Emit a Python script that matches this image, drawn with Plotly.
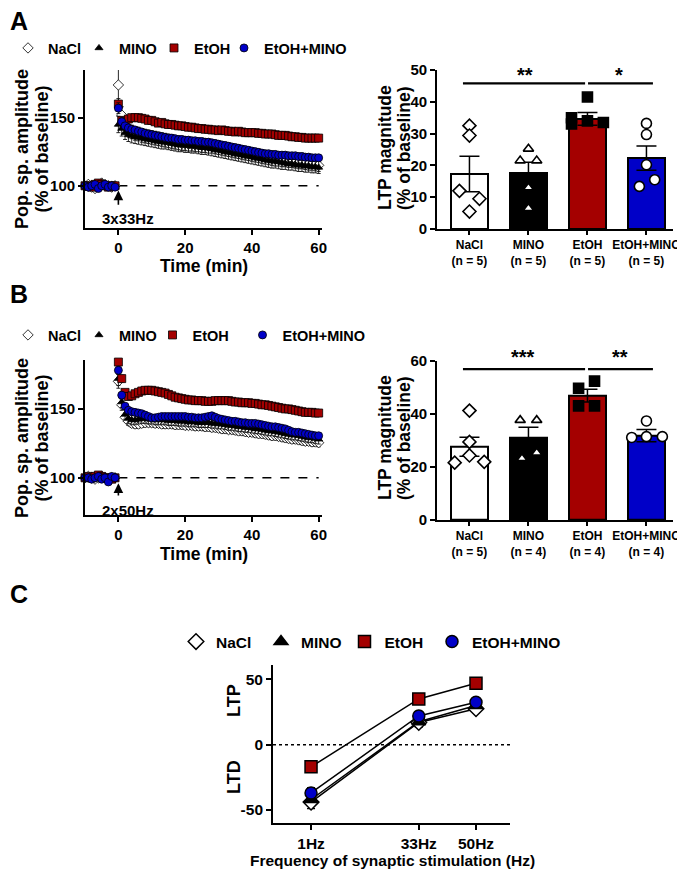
import plotly.graph_objects as go

W, H = 685, 872
OFF = 8  # the page body adds an 8px margin around the figure
def fx(p): return (p - OFF) / W
def fy(p): return 1 - (p - OFF) / H

FONT = "Liberation Sans, Arial, sans-serif"
RED = "#A40000"
BLUE = "#0000C8"

GROUPS = ["NaCl", "MINO", "EtOH", "EtOH+MINO"]
TIME = list(range(-10, 61))

# ---------------- Panel A time course (3x33Hz) ----------------
A_NACL = [100, 101, 99, 98, 101, 102, 101, 100, 99, 100,
          174, 152, 144, 141, 139.5, 138.5, 138, 137, 136.5, 136,
          135.5, 135, 134.5, 134, 133.5, 133, 132.5, 132, 131.5, 131,
          131, 130.5, 130.5, 130, 130, 129.5, 129.5, 129, 129, 128.5,
          128, 127.5, 127, 126.5, 126, 125.5, 125, 124.5, 124, 123.5,
          123, 122.5, 122, 121.5, 121, 120.5, 120, 119.5, 119.5, 119,
          118.5, 118, 118, 117.5, 117, 117, 116.5, 116, 116, 115.5,
          115]
A_MINO = [100, 99, 101, 100, 99, 101, 100, 100, 101, 99,
          145, 142, 139, 137.5, 136.5, 136, 135.5, 135, 134.5, 134,
          133.5, 133, 132.5, 132, 132, 131.5, 131, 130.5, 130, 130,
          129.5, 129.5, 129, 129, 128.5, 128, 128, 127.5, 127, 126.5,
          126, 125.5, 125, 124.5, 124, 123.5, 123, 122.5, 122, 121.5,
          121, 120.5, 120, 119.5, 119, 118.5, 118, 118, 117.5, 117,
          116.5, 116, 116, 115.5, 115, 115, 114.5, 114.5, 114, 114,
          113.5]
A_ETOH = [100, 100, 99, 101, 102, 101, 100, 99, 100, 100,
          160, 148, 147, 149, 150, 150, 150, 149.5, 149, 148,
          148, 147, 146, 146.5, 145.5, 145, 145, 144.5, 144, 144,
          143.5, 143, 143, 142.5, 142, 142, 141.5, 141.5, 141, 141,
          140.5, 141, 140.5, 140, 140, 139.5, 140, 139.5, 139, 139,
          139, 139, 138.5, 138.5, 138, 138, 138, 137.5, 137, 137,
          137, 136.5, 136, 136, 135.5, 135.5, 135, 135, 135, 135,
          135]
A_EM = [100, 99, 100, 101, 98, 100, 101, 99, 100, 99,
        157, 147, 144, 142.5, 141.5, 141, 140, 139.5, 138.5, 138,
        137.5, 137, 136.5, 136, 135.5, 135, 135, 134.5, 134, 134,
        133.5, 133.5, 133, 133, 132.5, 132.5, 132, 132, 131.5, 131,
        130.5, 130, 129.5, 129, 128.5, 128, 127.5, 127, 126.5, 126,
        125.5, 125, 124.5, 124, 123.5, 123.5, 123, 123, 122.5, 122.5,
        122.5, 122, 122, 122, 121.5, 121.5, 121, 121, 120.5, 120.5,
        120.5]
A_NACL_SEM = [1.5, 1.5, 2, 1.5, 2, 1.5, 2, 1.5, 1.5, 1.5,
              14, 6, 5.5, 5, 5, 5, 5, 5, 5, 5,
              5, 5, 5, 5, 5, 5, 5, 5, 5, 5,
              5, 5, 5, 5, 5, 5, 5, 5, 5, 5,
              5, 5, 5, 5, 5, 5, 5, 5, 5, 5,
              5, 5, 5, 5, 5, 5, 5, 5, 5, 5,
              4.5, 4.5, 4.5, 4.5, 4.5, 4.5, 4.5, 4.5, 4.5, 4.5,
              4.5]
A_MINO_SEM = [1.5, 1.5, 1.5, 1.5, 1.5, 1.5, 1.5, 1.5, 1.5, 1.5,
              6, 5.5, 5, 5, 5, 5, 5, 5, 5, 5,
              5, 5, 5, 5, 5, 5, 5, 5, 5, 5,
              5, 5, 5, 5, 5, 5, 5, 5, 5, 5,
              5, 5, 5, 5, 5, 5, 5, 5, 5, 5,
              5, 5, 5, 5, 5, 5, 5, 5, 5, 5,
              4.5, 4.5, 4.5, 4.5, 4.5, 4.5, 4.5, 4.5, 4.5, 4.5,
              4.5]
A_ETOH_SEM = [1, 1, 1, 1, 1, 1, 1, 1, 1, 1,
              4, 2.5, 2, 2, 2, 2, 2, 2, 2, 2,
              2, 2, 2, 2, 2, 2, 2, 2, 2, 2,
              2, 2, 2, 2, 2, 2, 2, 2, 2, 2,
              2, 2, 2, 2, 2, 2, 2, 2, 2, 2,
              2, 2, 2, 2, 2, 2, 2, 2, 2, 2,
              2, 2, 2, 2, 2, 2, 2, 2, 2, 2,
              2]
A_EM_SEM = [1, 1, 1, 1, 1, 1, 1, 1, 1, 1,
            4, 3, 2.5, 2.5, 2.5, 2.5, 2.5, 2.5, 2.5, 2.5,
            2.5, 2.5, 2.5, 2.5, 2.5, 2.5, 2.5, 2.5, 2.5, 2.5,
            2.5, 2.5, 2.5, 2.5, 2.5, 2.5, 2.5, 2.5, 2.5, 2.5,
            2.5, 2.5, 2.5, 2.5, 2.5, 2.5, 2.5, 2.5, 2.5, 2.5,
            2.5, 2.5, 2.5, 2.5, 2.5, 2.5, 2.5, 2.5, 2.5, 2.5,
            2.5, 2.5, 2.5, 2.5, 2.5, 2.5, 2.5, 2.5, 2.5, 2.5,
            2.5]

# ---------------- Panel B time course (2x50Hz) ----------------
B_NACL = [100, 101, 100, 99, 100, 101, 100, 99, 100, 100,
          170, 153, 144, 141, 139.5, 139, 139, 139.5, 140, 140,
          140, 139.5, 139.5, 139, 139, 139, 139, 138.5, 138.5, 138.5,
          138, 138, 138, 137.5, 137.5, 137.5, 137, 137, 136.5, 136.5,
          136, 135.5, 135.5, 135, 135, 134.5, 134, 134, 133.5, 133,
          133, 132.5, 132, 132, 131.5, 131, 130.5, 130.5, 130, 129.5,
          129, 128.5, 128, 128, 127.5, 127, 126.5, 126.5, 126, 126,
          125.5]
B_MINO = [100, 100, 101, 100, 99, 100, 101, 100, 100, 101,
          172, 155, 146, 143, 142, 142, 142.5, 143, 143, 142.5,
          142.5, 142, 142, 142, 142, 141.5, 141.5, 141.5, 141, 141,
          141, 140.5, 140.5, 140.5, 140, 140, 140, 140, 139.5, 139.5,
          139, 139, 138.5, 138, 138, 137.5, 137, 137, 136.5, 136.5,
          136, 135.5, 135.5, 135, 134.5, 134, 134, 133.5, 133, 132.5,
          132, 131.5, 131, 131, 130.5, 130, 129.5, 129, 129, 128.5,
          128]
B_ETOH = [100, 101, 100, 101, 102, 101, 100, 100, 99, 100,
          184, 172, 162, 159, 159.5, 161, 162, 163, 163.5, 163.5,
          163.5, 163, 162.5, 162, 161.5, 160.5, 159.5, 158.5, 158, 157.5,
          157, 156.5, 156.5, 156, 156, 156, 155.5, 155.5, 155.5, 156,
          156, 156, 156, 156, 155.5, 155, 155, 154.5, 154.5, 154.5,
          154, 154, 153.5, 153, 153, 152.5, 152, 151.5, 151, 150.5,
          150, 150, 149.5, 149, 148.5, 148, 147.5, 147.5, 147.5, 147,
          147]
B_EM = [100, 100, 99, 100, 101, 99, 100, 97, 101, 100,
        178, 160, 152, 149, 148, 147.5, 147, 146.5, 145.5, 144.5,
        143.5, 143.5, 144, 144.5, 144.5, 144.5, 144.5, 144.5, 144.5, 144.5,
        144.5, 144, 144, 143.5, 143.5, 143.5, 144, 144.5, 145, 144,
        143, 142.5, 142, 141.5, 141, 141, 140.5, 140, 140, 139.5,
        139.5, 139.5, 139, 138.5, 138, 137.5, 137, 137, 136.5, 136,
        135.5, 134.5, 133.5, 133, 133, 132.5, 132, 131.5, 131, 130.5,
        130.5]
B_NACL_SEM = [1, 1, 1, 1, 1, 1, 1, 1, 1, 1,
              5, 4, 3, 3, 3, 3, 3, 3, 3, 3,
              3, 3, 3, 3, 3, 3, 3, 3, 3, 3,
              3, 3, 3, 3, 3, 3, 3, 3, 3, 3,
              3, 3, 3, 3, 3, 3, 3, 3, 3, 3,
              3, 3, 3, 3, 3, 3, 3, 3, 3, 3,
              3, 3, 3, 3, 3, 3, 3, 3, 3, 3,
              3]
B_MINO_SEM = [1, 1, 1, 1, 1, 1, 1, 1, 1, 1,
              5, 4, 3.5, 3.5, 3.5, 3.5, 3.5, 3.5, 3.5, 3.5,
              3.5, 3.5, 3.5, 3.5, 3.5, 3.5, 3.5, 3.5, 3.5, 3.5,
              3.5, 3.5, 3.5, 3.5, 3.5, 3.5, 3.5, 3.5, 3.5, 3.5,
              3.5, 3.5, 3.5, 3.5, 3.5, 3.5, 3.5, 3.5, 3.5, 3.5,
              3.5, 3.5, 3.5, 3.5, 3.5, 3.5, 3.5, 3.5, 3.5, 3.5,
              3.5, 3.5, 3.5, 3.5, 3.5, 3.5, 3.5, 3.5, 3.5, 3.5,
              3.5]
B_ETOH_SEM = [1, 1, 1, 1, 1, 1, 1, 1, 1, 1,
              3, 2.5, 2, 2, 2, 2, 2, 2, 2, 2,
              2, 2, 2, 2, 2, 2, 2, 2, 2, 2,
              2, 2, 2, 2, 2, 2, 2, 2, 2, 2,
              2, 2, 2, 2, 2, 2, 2, 2, 2, 2,
              2, 2, 2, 2, 2, 2, 2, 2, 2, 2,
              2, 2, 2, 2, 2, 2, 2, 2, 2, 2,
              2]
B_EM_SEM = [1, 1, 1, 1, 1, 1, 1, 1, 1, 1,
            3, 2.5, 2, 2, 2, 2, 2, 2, 2, 2,
            2, 2, 2, 2, 2, 2, 2, 2, 2, 2,
            2, 2, 2, 2, 2, 2, 2, 2, 2, 2,
            2, 2, 2, 2, 2, 2, 2, 2, 2, 2,
            2, 2, 2, 2, 2, 2, 2, 2, 2, 2,
            2, 2, 2, 2, 2, 2, 2, 2, 2, 2,
            2]

# ---------------- Bar charts (LTP magnitude) ----------------
A_BAR_LABELS = ["NaCl<br>(n = 5)", "MINO<br>(n = 5)", "EtOH<br>(n = 5)", "EtOH+MINO<br>(n = 5)"]
A_BAR_MEAN = [17.3, 17.5, 34.6, 22.3]
A_BAR_SEM = [5.6, 3.5, 2.0, 3.8]
A_PTS = [[32.5, 29.4, 12.0, 9.5, 5.5],
         [25.2, 21.5, 21.5, 13.0, 6.5],
         [41.5, 35.0, 33.0, 34.0, 33.5],
         [33.2, 29.7, 20.2, 13.4, 15.5]]

B_BAR_LABELS = ["NaCl<br>(n = 5)", "MINO<br>(n = 4)", "EtOH<br>(n = 4)", "EtOH+MINO<br>(n = 4)"]
B_BAR_MEAN = [27.6, 31.0, 46.8, 31.8]
B_BAR_SEM = [3.6, 3.9, 2.4, 2.3]
B_PTS = [[41.2, 29.4, 24.3, 21.6, 21.9],
         [37.6, 37.6, 23.2, 25.3],
         [52.3, 49.6, 43.0, 43.0],
         [37.3, 31.1, 31.4, 31.4]]

# ---------------- Panel C ----------------
FREQ = [1, 33, 50]
FREQ_LABELS = ["1Hz", "33Hz", "50Hz"]
C_NACL = [-44, 17, 27.5]
C_MINO = [-42, 17.5, 30]
C_ETOH = [-17, 35, 47]
C_EM = [-37, 22, 32.5]
C_NACL_SEM = [5, 3.5, 3]
C_MINO_SEM = [4, 3, 3]
C_ETOH_SEM = [2.5, 2, 2]
C_EM_SEM = [4, 3.5, 1.5]

# ---------------- styles ----------------
SYM = {"NaCl": "diamond", "MINO": "triangle-up", "EtOH": "square", "EtOH+MINO": "circle"}
FILL = {"NaCl": "white", "MINO": "black", "EtOH": RED, "EtOH+MINO": BLUE}
BAR_FILL = ["white", "black", RED, BLUE]
PT_SYM = ["diamond", "triangle-up", "square", "circle"]
PT_FILL = ["white", "white", "black", "white"]
# horizontal spread of the individual points inside each bar (visual only)
A_JIT = [[0, 0, -0.17, 0.17, 0], [0, -0.14, 0.14, 0, 0], [0, -0.27, -0.27, 0, 0.27], [0, 0, 0, -0.12, 0.14]]
B_JIT = [[0, 0, 0, -0.25, 0.25], [-0.14, 0.14, -0.11, 0.14], [0.12, -0.15, -0.15, 0.12], [0, -0.25, 0, 0.27]]
# legend entry widths (px) to mimic the original spacing
LW_A = {"NaCl": 26, "MINO": 30, "EtOH": 25, "EtOH+MINO": 80}
LW_B = {"NaCl": 26, "MINO": 28.5, "EtOH": 45, "EtOH+MINO": 80}
LW_C = {"NaCl": 40, "MINO": 38.5, "EtOH": 42.5, "EtOH+MINO": 90}

fig = go.Figure()

def time_course(xa, ya, series, legend, lw):
    for name, y, e in series:
        fig.add_trace(go.Scatter(
            x=TIME, y=y, mode="markers", name=name, legend=legend, legendwidth=lw[name],
            xaxis=xa, yaxis=ya, cliponaxis=False,
            marker=dict(symbol=SYM[name], size=8 if name != "MINO" else 7,
                        color=FILL[name], line=dict(color="black", width=0.8)),
            error_y=dict(type="data", array=e, color="#111111", thickness=0.9, width=2)))

time_course("x", "y", [("NaCl", A_NACL, A_NACL_SEM), ("MINO", A_MINO, A_MINO_SEM),
                       ("EtOH", A_ETOH, A_ETOH_SEM), ("EtOH+MINO", A_EM, A_EM_SEM)], "legend", LW_A)
time_course("x3", "y3", [("NaCl", B_NACL, B_NACL_SEM), ("MINO", B_MINO, B_MINO_SEM),
                         ("EtOH", B_ETOH, B_ETOH_SEM), ("EtOH+MINO", B_EM, B_EM_SEM)], "legend2", LW_B)

def bar_chart(xa, ya, means, sems, pts, jit):
    fig.add_trace(go.Bar(
        x=[0, 1, 2, 3], y=means, width=0.63, xaxis=xa, yaxis=ya, showlegend=False,
        marker=dict(color=BAR_FILL, line=dict(color="black", width=2)),
        error_y=dict(type="data", array=sems, color="black", thickness=1.5, width=10)))
    for i in range(4):
        fig.add_trace(go.Scatter(
            x=[i + j for j in jit[i]], y=pts[i], mode="markers", xaxis=xa, yaxis=ya,
            showlegend=False, cliponaxis=False,
            marker=dict(symbol=PT_SYM[i], size=10 if i != 1 else 9,
                        color=PT_FILL[i], line=dict(color="black", width=1.6))))

bar_chart("x2", "y2", A_BAR_MEAN, A_BAR_SEM, A_PTS, A_JIT)
bar_chart("x4", "y4", B_BAR_MEAN, B_BAR_SEM, B_PTS, B_JIT)

for name, y, e in [("NaCl", C_NACL, C_NACL_SEM), ("MINO", C_MINO, C_MINO_SEM),
                   ("EtOH", C_ETOH, C_ETOH_SEM), ("EtOH+MINO", C_EM, C_EM_SEM)]:
    fig.add_trace(go.Scatter(
        x=FREQ, y=y, mode="lines", xaxis="x5", yaxis="y5", showlegend=False,
        line=dict(color="black", width=1.5),
        error_y=dict(type="data", array=e, color="black", thickness=1.3, width=4)))
for name, y in [("NaCl", C_NACL), ("MINO", C_MINO), ("EtOH", C_ETOH), ("EtOH+MINO", C_EM)]:
    fig.add_trace(go.Scatter(
        x=FREQ, y=y, mode="markers", name=name, legend="legend3", legendwidth=LW_C[name],
        xaxis="x5", yaxis="y5", cliponaxis=False,
        marker=dict(symbol=SYM[name], size=12, color=FILL[name], line=dict(color="black", width=1.5))))

# ---------------- axes ----------------
AX = dict(showline=True, linecolor="black", linewidth=1.8, ticks="outside", ticklen=5,
          tickwidth=1.6, tickcolor="black", showgrid=False, zeroline=False, automargin=False,
          tickfont=dict(size=15, family=FONT, color="black", weight="bold"))

def ax(**kw):
    d = dict(AX)
    d.update(kw)
    return d

BARTICK = dict(size=12, family=FONT, color="black", weight="bold")
BARY = dict(size=15, family=FONT, color="black", weight="bold")
lay = dict(
    width=W, height=H, autosize=False,
    margin=dict(l=0, r=0, t=0, b=0, pad=0, autoexpand=False),
    paper_bgcolor="white", plot_bgcolor="white",
    font=dict(family=FONT, color="black", weight="bold"),
    bargap=0,
    xaxis=ax(domain=[fx(85), fx(322)], range=[-10, 61], anchor="y",
             tickvals=[0, 20, 40, 60]),
    yaxis=ax(domain=[fy(228), fy(70)], range=[69, 185], anchor="x",
             tickvals=[100, 150]),
    xaxis2=ax(domain=[fx(437), fx(673)], range=[-0.55, 3.45], anchor="y2",
              tickvals=[0, 1, 2, 3], ticktext=A_BAR_LABELS, ticklen=4, tickfont=BARTICK),
    yaxis2=ax(domain=[fy(229), fy(70)], range=[0, 50], anchor="x2",
              tickvals=[0, 10, 20, 30, 40, 50], tickfont=BARY),
    xaxis3=ax(domain=[fx(85), fx(322)], range=[-10, 61], anchor="y3",
              tickvals=[0, 20, 40, 60]),
    yaxis3=ax(domain=[fy(515), fy(360)], range=[73, 185.5], anchor="x3",
              tickvals=[100, 150]),
    xaxis4=ax(domain=[fx(437), fx(673)], range=[-0.55, 3.45], anchor="y4",
              tickvals=[0, 1, 2, 3], ticktext=B_BAR_LABELS, ticklen=4, tickfont=BARTICK),
    yaxis4=ax(domain=[fy(520), fy(360.7)], range=[0, 60], anchor="x4",
              tickvals=[0, 20, 40, 60], tickfont=BARY),
    xaxis5=ax(domain=[fx(273), fx(510)], range=[-10.3, 60.1], anchor="y5",
              tickvals=FREQ, ticktext=FREQ_LABELS,
              tickfont=dict(size=15.5, family=FONT, color="black", weight="bold")),
    yaxis5=ax(domain=[fy(823), fy(665)], range=[-60, 61], anchor="x5",
              tickvals=[-50, 0, 50], ticktext=["-50", "0", "50"],
              tickfont=dict(size=15.5, family=FONT, color="black", weight="bold")),
)

LEG = dict(orientation="h", xanchor="left", yanchor="middle", bgcolor="rgba(0,0,0,0)",
           borderwidth=0, itemwidth=30, itemclick=False, itemdoubleclick=False,
           font=dict(size=14.5, family=FONT, color="black", weight="bold"))
lay["legend"] = dict(LEG, x=0, y=fy(48))
lay["legend2"] = dict(LEG, x=0, y=fy(335))
lay["legend3"] = dict(LEG, x=fx(176), y=fy(642),
                      font=dict(size=15.5, family=FONT, color="black", weight="bold"))
fig.update_layout(**lay)

# ---------------- shapes ----------------
shapes = [
    dict(type="line", xref="x", yref="y", x0=0, x1=60, y0=100, y1=100,
         line=dict(color="black", width=1.5, dash="dash"), layer="below"),
    dict(type="line", xref="x3", yref="y3", x0=0, x1=60, y0=100, y1=100,
         line=dict(color="black", width=1.5, dash="dash"), layer="below"),
    dict(type="line", xref="x5 domain", yref="y5", x0=0, x1=1, y0=0, y1=0,
         line=dict(color="black", width=1.5, dash="dot"), layer="below"),
    dict(type="line", xref="x2", yref="y2", x0=-0.11, x1=1.96, y0=45.8, y1=45.8,
         line=dict(color="black", width=2.2)),
    dict(type="line", xref="x2", yref="y2", x0=2.01, x1=3.11, y0=45.8, y1=45.8,
         line=dict(color="black", width=2.2)),
    dict(type="line", xref="x4", yref="y4", x0=-0.11, x1=1.96, y0=56.8, y1=56.8,
         line=dict(color="black", width=2.2)),
    dict(type="line", xref="x4", yref="y4", x0=2.01, x1=3.11, y0=56.8, y1=56.8,
         line=dict(color="black", width=2.2)),
]
fig.update_layout(shapes=shapes)

def txt(text, x, y, size, angle=0, xanchor="center"):
    return dict(text=text, x=fx(x), y=fy(y), xref="paper", yref="paper", showarrow=False,
                xanchor=xanchor, yanchor="middle", textangle=angle,
                font=dict(size=size, family=FONT, color="black", weight="bold"))

ann = [
    txt("A", 8, 21, 25, xanchor="left"), txt("B", 8, 294, 25, xanchor="left"),
    txt("C", 8, 594, 25, xanchor="left"),
    txt("Pop. sp. amplitude", 22, 149, 18, -90), txt("(% of baseline)", 41.5, 149, 18, -90),
    txt("Pop. sp. amplitude", 22, 438, 18, -90), txt("(% of baseline)", 41.5, 438, 18, -90),
    txt("LTP magnitude", 385, 148, 17.5, -90), txt("(% of baseline)", 404, 148, 17.5, -90),
    txt("LTP magnitude", 385, 438, 17.5, -90), txt("(% of baseline)", 404, 438, 17.5, -90),
    txt("Time (min)", 204, 266, 17.5), txt("Time (min)", 204, 554, 17.5),
    txt("LTP", 234, 700, 18, -90), txt("LTD", 234, 777, 18, -90),
    txt("Frequency of synaptic stimulation (Hz)", 392, 860, 15.5),
    txt("3x33Hz", 128, 218, 15), txt("2x50Hz", 128, 510, 15),
    txt("**", 525, 75, 20), txt("*", 619, 75, 20),
    txt("***", 523, 357, 20), txt("**", 620, 357, 20),
    dict(text="", x=0, y=96.5, ax=0, ay=85, xref="x", yref="y", axref="x", ayref="y",
         showarrow=True, arrowhead=2, arrowsize=1.2, arrowwidth=1.6, arrowcolor="black"),
    dict(text="", x=0, y=96, ax=0, ay=86, xref="x3", yref="y3", axref="x3", ayref="y3",
         showarrow=True, arrowhead=2, arrowsize=1.2, arrowwidth=1.6, arrowcolor="black"),
]
fig.update_layout(annotations=ann)

fig.write_html("out.html")
